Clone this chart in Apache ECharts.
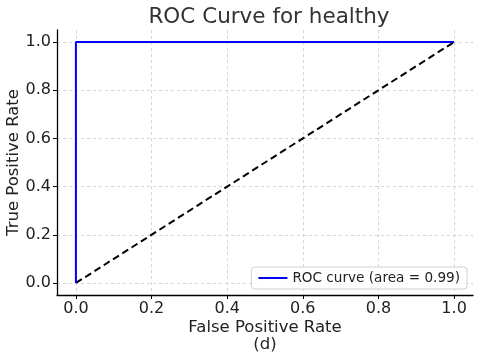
<!DOCTYPE html>
<html>
<head>
<meta charset="utf-8">
<script src="https://cdn.jsdelivr.net/npm/echarts@6/dist/echarts.min.js"></script>
<style>
  html, body { margin: 0; padding: 0; background: #fff; }
  #chart { width: 480px; height: 353px; }
</style>
</head>
<body>
<div id="chart"></div>
<script>
// ROC data
const rocFpr = [0.0, 0.0, 1.0];
const rocTpr = [0.0, 1.0, 1.0];
const chanceFpr = [0.0, 1.0];
const chanceTpr = [0.0, 1.0];
const tickValues = [0.0, 0.2, 0.4, 0.6, 0.8, 1.0];
const rocLabel = 'ROC curve (area = 0.99)';

document.addEventListener("DOMContentLoaded", () => {
    const font = 'DejaVu Sans';
    const axisCommon = {
        type: 'value',
        min: -0.05,
        max: 1.05,
        axisLine: { show: true, onZero: false, lineStyle: { color: '#000', width: 1.3 } },
        axisTick: { show: true, customValues: tickValues, length: 4, inside: false, lineStyle: { color: '#000' } },
        axisLabel: {
            customValues: tickValues,
            formatter: v => v.toFixed(1),
            fontFamily: font, fontSize: 16, color: '#222', margin: 6
        },
        splitLine: { show: true, lineStyle: { color: '#cccccc', type: [3, 3], width: 0.8 } },
        nameLocation: 'middle',
        nameMoveOverlap: false,
        nameTextStyle: { fontFamily: font, fontSize: 16.5, color: '#222' }
    };

    echarts.init(document.getElementById('chart')).setOption({
        animation: false,
        title: {
            text: 'ROC Curve for healthy',
            left: 264, top: 1, textAlign: 'center',
            textStyle: { fontFamily: font, fontSize: 21.5, fontWeight: 'normal', color: '#333' }
        },
        grid: { left: 57, right: 7, top: 30, bottom: 58, outerBoundsMode: 'none', containLabel: false },
        xAxis: Object.assign({}, axisCommon, {
            name: 'False Positive Rate\n(d)',
            nameGap: 24,
            nameTextStyle: { fontFamily: font, fontSize: 16.5, color: '#222', lineHeight: 17, verticalAlign: 'top' }
        }),
        yAxis: Object.assign({}, axisCommon, {
            name: 'True Positive Rate',
            nameGap: 35
        }),
        legend: {
            data: [rocLabel],
            right: 13, bottom: 64,
            orient: 'vertical',
            itemWidth: 29, itemHeight: 2,
            icon: 'rect',
            padding: [4, 7],
            borderColor: '#d0d0d0', borderWidth: 1, borderRadius: 3,
            backgroundColor: 'rgba(255,255,255,0.85)',
            textStyle: { fontFamily: font, fontSize: 13.6, color: '#222' }
        },
        series: [
            {
                name: rocLabel,
                type: 'line',
                data: rocFpr.map((x, i) => [x, rocTpr[i]]),
                showSymbol: false,
                symbol: 'none',
                lineStyle: { color: '#0000ff', width: 2 },
                itemStyle: { color: '#0000ff' },
                z: 3
            },
            {
                name: 'chance',
                type: 'line',
                data: chanceFpr.map((x, i) => [x, chanceTpr[i]]),
                showSymbol: false,
                symbol: 'none',
                lineStyle: { color: '#000', width: 2, type: [7, 4] },
                z: 2
            }
        ]
    });
});
</script>
</body>
</html>
